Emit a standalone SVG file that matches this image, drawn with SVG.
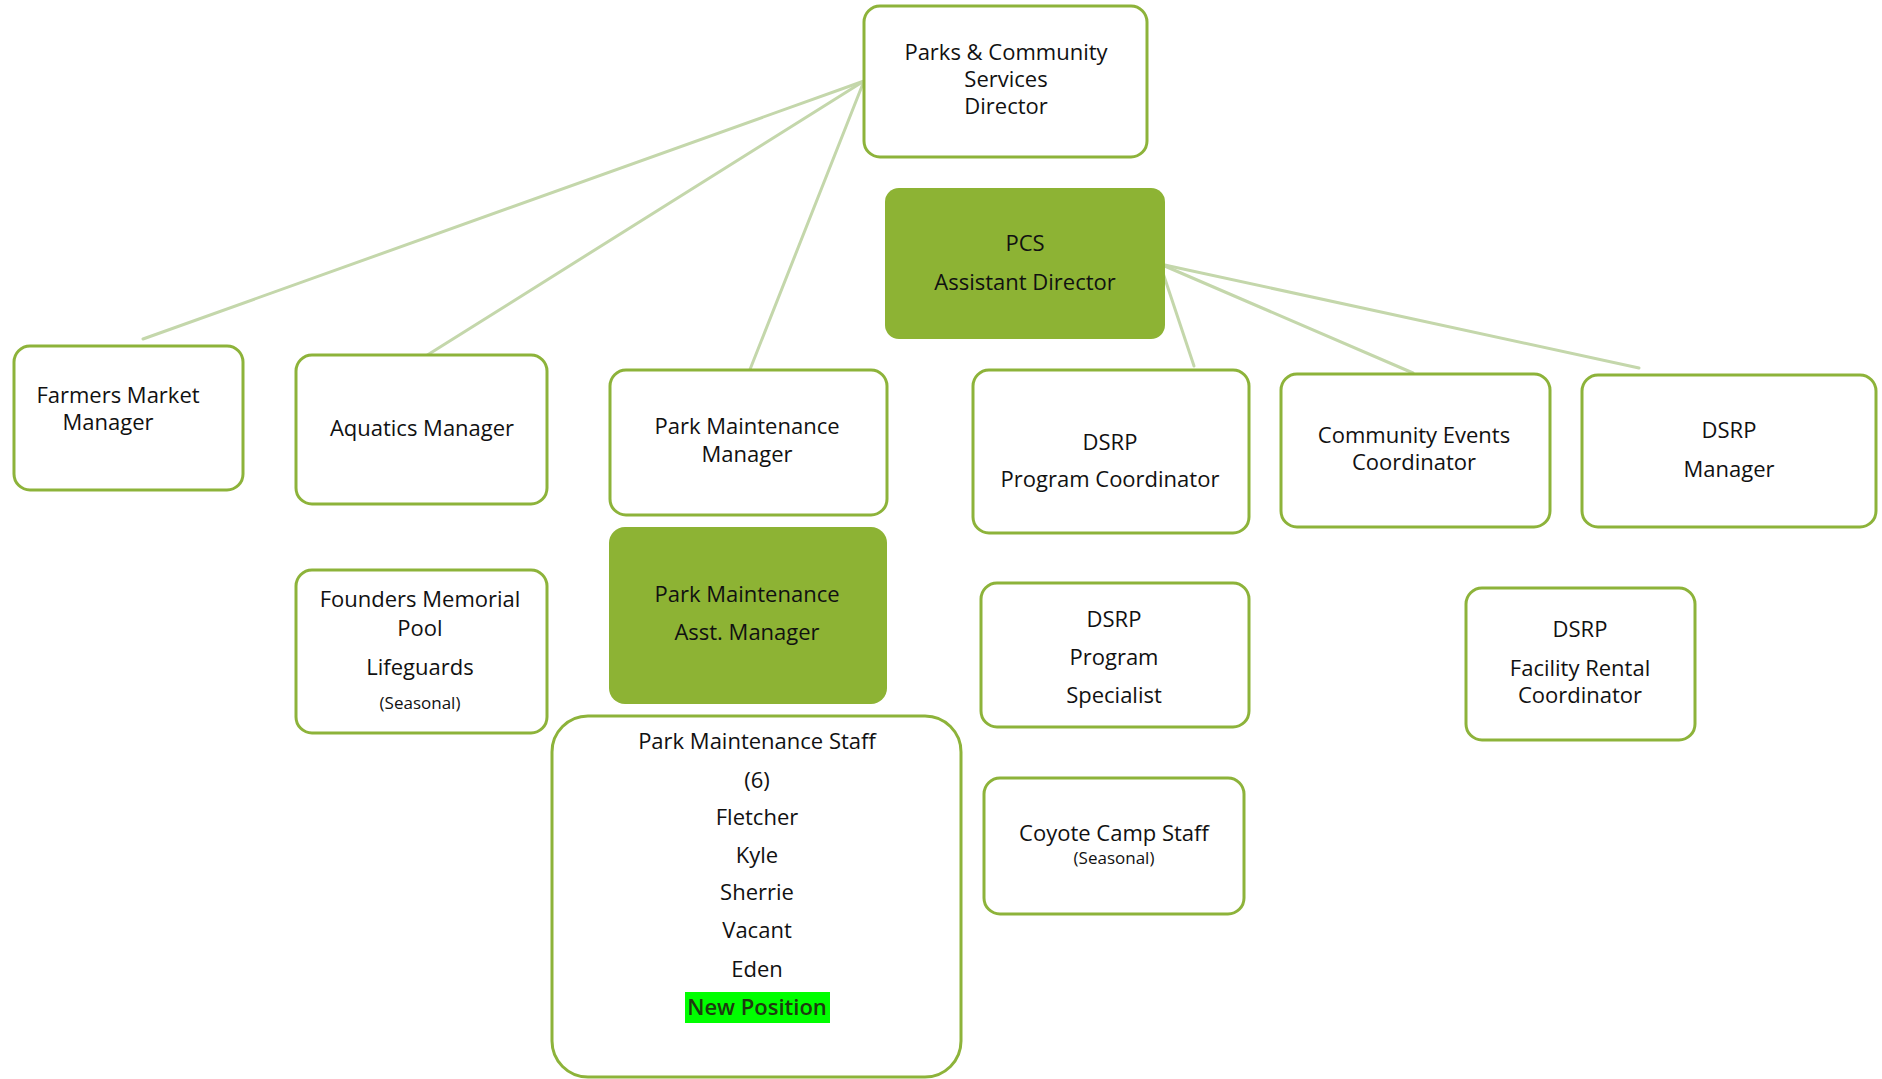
<svg xmlns="http://www.w3.org/2000/svg" width="1882" height="1079" viewBox="0 0 1882 1079">
<style>
.box{fill:#ffffff;stroke:#8db33a;stroke-width:3}
.gbox{fill:#8db334;stroke:none}
.t{font-family:"Open Sans","Noto Sans",sans-serif;font-size:22px;fill:#111;text-anchor:middle}
.s{font-size:17px}
.conn{stroke:#c4d7ab;stroke-width:3;fill:none;stroke-linecap:round}
</style>
<rect width="1882" height="1079" fill="#ffffff"/>
<g id="connectors">
<line class="conn" x1="864" y1="81" x2="143" y2="339"/>
<line class="conn" x1="864" y1="81" x2="421" y2="359"/>
<line class="conn" x1="864" y1="81" x2="749" y2="372"/>
<line class="conn" x1="1160" y1="264" x2="1194" y2="366"/>
<line class="conn" x1="1160" y1="264" x2="1413" y2="373"/>
<line class="conn" x1="1160" y1="264" x2="1639" y2="368"/>
</g>
<g id="director">
<rect class="box" x="864" y="6" width="283" height="151" rx="16"/>
<text class="t" x="1006" y="60">Parks &amp; Community</text>
<text class="t" x="1006" y="87">Services</text>
<text class="t" x="1006" y="114">Director</text>
</g>
<g id="pcs-assistant-director">
<rect class="gbox" x="885" y="188" width="280" height="151" rx="14"/>
<text class="t" x="1025" y="251">PCS</text>
<text class="t" x="1025" y="290">Assistant Director</text>
</g>
<g id="farmers-market-manager">
<rect class="box" x="14" y="346" width="229" height="144" rx="16"/>
<text class="t" x="118" y="403">Farmers Market</text>
<text class="t" x="108" y="430">Manager</text>
</g>
<g id="aquatics-manager">
<rect class="box" x="296" y="355" width="251" height="149" rx="16"/>
<text class="t" x="422" y="436">Aquatics Manager</text>
</g>
<g id="founders-pool-lifeguards">
<rect class="box" x="296" y="570" width="251" height="163" rx="16"/>
<text class="t" x="420" y="607">Founders Memorial</text>
<text class="t" x="420" y="636">Pool</text>
<text class="t" x="420" y="675">Lifeguards</text>
<text class="t s" x="420" y="709">(Seasonal)</text>
</g>
<g id="park-maintenance-manager">
<rect class="box" x="610" y="370" width="277" height="145" rx="16"/>
<text class="t" x="747" y="434">Park Maintenance</text>
<text class="t" x="747" y="462">Manager</text>
</g>
<g id="park-maintenance-asst-manager">
<rect class="gbox" x="609" y="527" width="278" height="177" rx="16"/>
<text class="t" x="747" y="602">Park Maintenance</text>
<text class="t" x="747" y="640">Asst. Manager</text>
</g>
<g id="park-maintenance-staff">
<rect class="box" x="552" y="716" width="409" height="361" rx="36"/>
<text class="t" x="757" y="749">Park Maintenance Staff</text>
<text class="t" x="757" y="788">(6)</text>
<text class="t" x="757" y="825">Fletcher</text>
<text class="t" x="757" y="863">Kyle</text>
<text class="t" x="757" y="900">Sherrie</text>
<text class="t" x="757" y="938">Vacant</text>
<text class="t" x="757" y="977">Eden</text>
<rect x="685" y="992" width="145" height="31" fill="#00ff00"/>
<text class="t" x="757" y="1015" style="fill:#1e3a10;font-weight:600">New Position</text>
</g>
<g id="dsrp-program-coordinator">
<rect class="box" x="973" y="370" width="276" height="163" rx="16"/>
<text class="t" x="1110" y="450">DSRP</text>
<text class="t" x="1110" y="487">Program Coordinator</text>
</g>
<g id="dsrp-program-specialist">
<rect class="box" x="981" y="583" width="268" height="144" rx="16"/>
<text class="t" x="1114" y="627">DSRP</text>
<text class="t" x="1114" y="665">Program</text>
<text class="t" x="1114" y="703">Specialist</text>
</g>
<g id="coyote-camp-staff">
<rect class="box" x="984" y="778" width="260" height="136" rx="16"/>
<text class="t" x="1114" y="841">Coyote Camp Staff</text>
<text class="t s" x="1114" y="864">(Seasonal)</text>
</g>
<g id="community-events-coordinator">
<rect class="box" x="1281" y="374" width="269" height="153" rx="16"/>
<text class="t" x="1414" y="443">Community Events</text>
<text class="t" x="1414" y="470">Coordinator</text>
</g>
<g id="dsrp-manager">
<rect class="box" x="1582" y="375" width="294" height="152" rx="16"/>
<text class="t" x="1729" y="438">DSRP</text>
<text class="t" x="1729" y="477">Manager</text>
</g>
<g id="dsrp-facility-rental-coordinator">
<rect class="box" x="1466" y="588" width="229" height="152" rx="16"/>
<text class="t" x="1580" y="637">DSRP</text>
<text class="t" x="1580" y="676">Facility Rental</text>
<text class="t" x="1580" y="703">Coordinator</text>
</g>
</svg>
